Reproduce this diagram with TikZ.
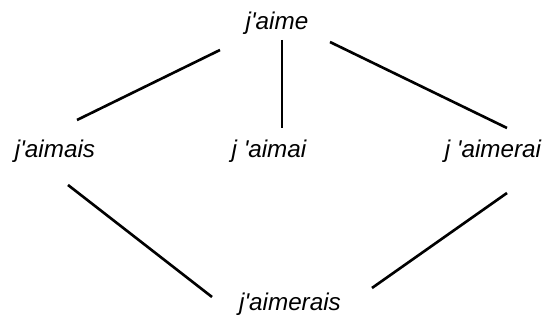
\documentclass[tikz,border=0pt]{standalone}
\usepackage{fontspec}
\setmainfont{Liberation Sans}
\usetikzlibrary{calc}

\begin{document}
\begin{tikzpicture}[
    x=0.02cm, y=-0.02cm,
    form/.style={anchor=base, inner sep=0pt, font=\itshape\fontsize{13.8}{16}\selectfont},
    link/.style={line width=1.5pt}
]
    \useasboundingbox (0,0) rectangle (545,323);

    % Verb forms
    \node[form] (aime) at (277,30) {j\textquotesingle aime};
    \node[form] (aimais) at (55,158) {j\textquotesingle aimais};
    \node[form] (aimai) at (269,158) {j \textquotesingle aimai};
    \node[form] (aimerai) at (493,158) {j \textquotesingle aimerai};
    \node[form] (aimerais) at (290,311) {j\textquotesingle aimerais};

    % Links
    \draw[link] ($(aime.base)+(-57,20)$) -- ($(aimais.base)+(22,-38)$);
    \draw[link] ($(aime.base)+(5,10)$) -- ($(aimai.base)+(13,-30)$);
    \draw[link] ($(aime.base)+(53,12)$) -- ($(aimerai.base)+(14,-30)$);
    \draw[link] ($(aimais.base)+(13,27)$) -- ($(aimerais.base)+(-78,-14)$);
    \draw[link] ($(aimerai.base)+(14,35)$) -- ($(aimerais.base)+(82,-23)$);
\end{tikzpicture}
\end{document}
